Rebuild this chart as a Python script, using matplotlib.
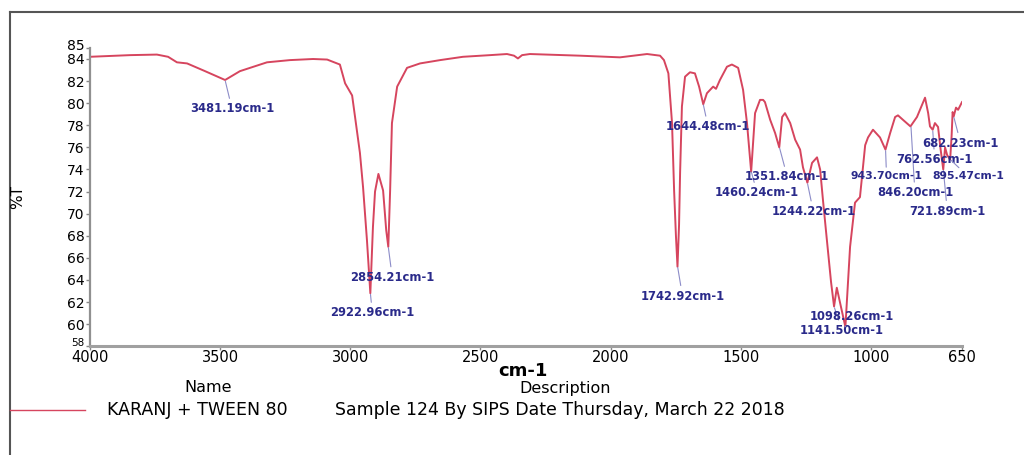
import numpy as np
import matplotlib
matplotlib.use("Agg")
import matplotlib.pyplot as plt
from matplotlib.lines import Line2D
import matplotlib.transforms as mtransforms

plt.rcParams['font.family'] = ['DejaVu Sans']

# ---- data ----
wavenumber = [4000, 3846, 3743, 3700, 3666, 3627, 3558, 3481, 3424, 3320, 3232, 3143,
              3089, 3040, 3020, 2993, 2982, 2963, 2951, 2936, 2923, 2913, 2905, 2892,
              2874, 2862, 2854, 2847, 2840, 2820, 2782, 2732, 2655, 2567, 2463, 2398,
              2371, 2356, 2340, 2310, 2117, 1964, 1860, 1810, 1795, 1778, 1764, 1756,
              1749, 1743, 1737, 1733, 1726, 1714, 1695, 1676, 1660, 1644, 1630, 1618,
              1606, 1595, 1580, 1553, 1534, 1510, 1491, 1476, 1460, 1445, 1426, 1414,
              1407, 1387, 1368, 1352, 1341, 1330, 1310, 1291, 1272, 1261, 1244, 1226,
              1207, 1195, 1184, 1169, 1153, 1141.5, 1131, 1119, 1098, 1080, 1061, 1042,
              1022, 1011, 992, 965, 944, 926, 907, 896, 877, 848, 823, 792, 780, 773,
              762.6, 754, 742, 732, 722, 715, 707, 695.5, 690, 686, 682, 673, 665, 650]
transmittance = [84.2, 84.35, 84.4, 84.2, 83.7, 83.6, 82.9, 82.1, 82.9, 83.7, 83.9, 84.0,
                 83.95, 83.5, 81.8, 80.7, 78.8, 75.5, 72.4, 67.6, 62.8, 68.8, 72.0, 73.6,
                 72.1, 68.5, 67.0, 72.1, 78.2, 81.5, 83.2, 83.6, 83.9, 84.2, 84.35, 84.45,
                 84.3, 84.05, 84.35, 84.45, 84.3, 84.15, 84.45, 84.3, 83.9, 82.7, 78.2, 72.1,
                 68.0, 65.2, 69.0, 73.7, 79.7, 82.4, 82.8, 82.7, 81.5, 79.9, 80.9, 81.2,
                 81.5, 81.3, 82.1, 83.3, 83.5, 83.2, 81.2, 78.2, 73.8, 79.1, 80.3, 80.3,
                 80.1, 78.5, 77.3, 76.0, 78.75, 79.1, 78.2, 76.7, 75.8, 74.2, 72.8, 74.6,
                 75.1, 74.0, 71.2, 67.6, 63.8, 61.6, 63.3, 62.0, 59.75, 67.0, 71.0, 71.5,
                 76.2, 76.9, 77.6, 76.9, 75.8, 77.3, 78.75, 78.9, 78.5, 77.9, 78.75, 80.5, 79.1, 77.9,
                 77.6, 78.2, 77.85, 75.8, 74.0, 76.0, 75.3, 74.9, 77.0, 79.2, 78.8, 79.6, 79.4, 80.1]

peak_positions = [3481.19, 2922.96, 2854.21, 1742.92, 1644.48, 1460.24, 1351.84, 1244.22,
                  1141.50, 1098.26, 943.70, 846.20, 762.56, 721.89, 695.47, 682.23]
peak_labels = ["3481.19cm-1", "2922.96cm-1", "2854.21cm-1", "1742.92cm-1", "1644.48cm-1",
               "1460.24cm-1", "1351.84cm-1", "1244.22cm-1", "1141.50cm-1", "1098.26cm-1",
               "943.70cm-1", "846.20cm-1", "762.56cm-1", "721.89cm-1", "895.47cm-1",
               "682.23cm-1"]
# label offsets in pixels (dx, dy) from each peak
label_offsets = [(7, -29), (2, -20), (4, -31), (5, -30), (5, -23), (6, -22), (8, -30),
                 (6, -29), (8, -24), (6, 10), (1, -27), (4, -67), (2, -30), (4, -42),
                 (18, -17), (7, -27)]

x_ticks = [4000, 3500, 3000, 2500, 2000, 1500, 1000, 650]
y_ticks = [58, 60, 62, 64, 66, 68, 70, 72, 74, 76, 78, 80, 82, 84, 85]

series_name = "KARANJ + TWEEN 80"
series_desc = "Sample 124 By SIPS Date Thursday, March 22 2018"

line_color = '#d6455e'
label_color = '#2a2a8a'
leader_color = '#8c8cc8'

fig = plt.figure(figsize=(10.24, 4.55), dpi=100)
ax = fig.add_axes([90 / 1024, 1 - 346.3 / 455, 872 / 1024, (346.3 - 47.95) / 455])

ax.plot(wavenumber, transmittance, color=line_color, lw=1.4)
ax.set_xlim(4000, 650)
ax.set_ylim(58, 85)
ax.set_xticks(x_ticks)
ax.set_xticklabels([str(t) for t in x_ticks])
ax.set_yticks(y_ticks)
ax.set_yticklabels([str(t) for t in y_ticks])
ax.tick_params(axis='x', labelsize=10.5, length=3, width=1, color='#888888', pad=0)
ax.tick_params(axis='y', labelsize=10, length=3, width=1, color='#888888', pad=1)

# nudge crowded end labels like the reference
ylabs = ax.get_yticklabels()
ylabs[-1].set_transform(ylabs[-1].get_transform() +
                        mtransforms.ScaledTranslation(0, 3 / 100, fig.dpi_scale_trans))
ylabs[0].set_fontsize(7.5)
ylabs[0].set_transform(ylabs[0].get_transform() +
                       mtransforms.ScaledTranslation(0, 4 / 100, fig.dpi_scale_trans))

for s in ['top', 'right']:
    ax.spines[s].set_visible(False)
ax.spines['bottom'].set_color('#a0a0a0')
ax.spines['bottom'].set_linewidth(2.2)
ax.spines['left'].set_color('#909090')
ax.spines['left'].set_linewidth(1.6)

wn_rev = np.array(wavenumber)[::-1]
tr_rev = np.array(transmittance)[::-1]
for pos, lab, (dx, dy) in zip(peak_positions, peak_labels, label_offsets):
    yv = float(np.interp(pos, wn_rev, tr_rev))
    fs = 7.8 if lab in ("943.70cm-1", "895.47cm-1") else 8.3
    ax.annotate(lab, xy=(pos, yv), xytext=(dx, dy), textcoords='offset pixels',
                ha='center', va='center', fontsize=fs, fontweight='bold',
                color=label_color,
                arrowprops=dict(arrowstyle='-', color=leader_color, lw=0.8,
                                shrinkA=1, shrinkB=1))

# x axis title
fig.text(523 / 1024, 1 - 371 / 455, "cm-1", fontsize=13, fontweight='bold',
         ha='center', va='center')

# %T label
fig.text(18 / 1024, 1 - 197 / 455, "%T", rotation=90, fontsize=11,
         ha='center', va='center')

# outer frame lines
fig.add_artist(Line2D([10 / 1024, 10 / 1024], [0, 1 - 12 / 455], color='#555555', lw=1.5))
fig.add_artist(Line2D([10 / 1024, 1], [1 - 12 / 455, 1 - 12 / 455], color='#555555', lw=1.5))

# legend table
fig.text(208 / 1024, 1 - 388 / 455, "Name", fontsize=11.5, ha='center', va='center')
fig.text(565 / 1024, 1 - 388 / 455, "Description", fontsize=11.5, ha='center', va='center')
fig.add_artist(Line2D([10 / 1024, 85 / 1024], [1 - 410 / 455, 1 - 410 / 455],
                      color=line_color, lw=1.0))
fig.text(107 / 1024, 1 - 410 / 455, series_name, fontsize=12.5, ha='left', va='center')
fig.text(335 / 1024, 1 - 410 / 455, series_desc, fontsize=12.5, ha='left', va='center')

fig.savefig("out.png", dpi=100)
